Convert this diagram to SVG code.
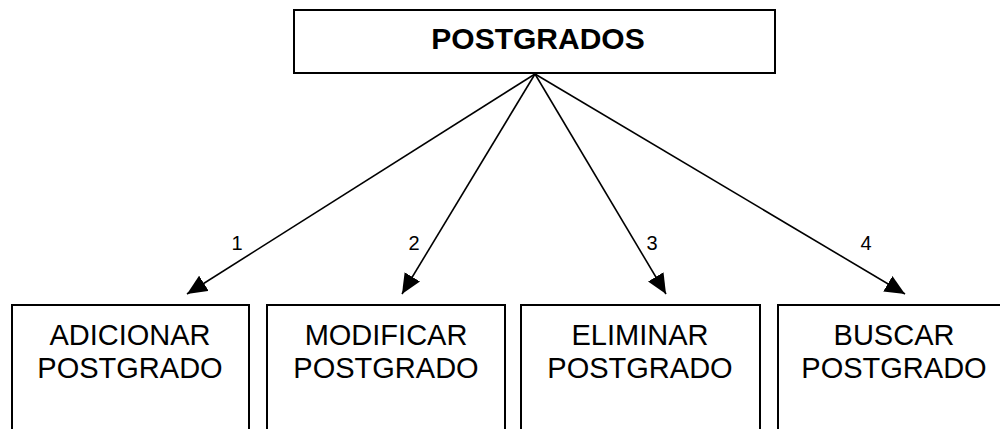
<svg xmlns="http://www.w3.org/2000/svg" width="1000" height="429" viewBox="0 0 1000 429">
<style>
.box{fill:#fff;stroke:#000;stroke-width:2}
.t{font-family:"Liberation Sans",Arial,sans-serif;font-size:29px;text-anchor:middle;fill:#000}
.tb{font-family:"Liberation Sans",Arial,sans-serif;font-size:30px;font-weight:bold;text-anchor:middle;fill:#000}
.lbl{font-family:"Liberation Sans",Arial,sans-serif;font-size:20px;text-anchor:middle;fill:#000}
.c{stroke:#000;stroke-width:1.6;fill:none;marker-end:url(#ah)}
</style>
<defs>
<marker id="ah" markerUnits="userSpaceOnUse" markerWidth="22" markerHeight="18" refX="20" refY="9" orient="auto">
<path d="M0,0 L20,9 L0,18 Z" fill="#000"/>
</marker>
</defs>
<g id="root">
<rect class="box" x="294" y="10" width="481" height="63"/>
<text class="tb" x="538" y="49">POSTGRADOS</text>
</g>
<g id="adicionar">
<rect class="box" x="12" y="305" width="237" height="140"/>
<text class="t" x="130" y="345">ADICIONAR</text>
<text class="t" x="130" y="378">POSTGRADO</text>
</g>
<g id="modificar">
<rect class="box" x="267" y="305" width="238" height="140"/>
<text class="t" x="386" y="345">MODIFICAR</text>
<text class="t" x="386" y="378">POSTGRADO</text>
</g>
<g id="eliminar">
<rect class="box" x="521" y="305" width="239" height="140"/>
<text class="t" x="640" y="345">ELIMINAR</text>
<text class="t" x="640" y="378">POSTGRADO</text>
</g>
<g id="buscar">
<rect class="box" x="778" y="305" width="240" height="140"/>
<text class="t" x="894" y="345">BUSCAR</text>
<text class="t" x="894" y="378">POSTGRADO</text>
</g>
<g id="connectors">
<line class="c" x1="535" y1="74" x2="187" y2="294"/>
<line class="c" x1="535" y1="74" x2="402" y2="294"/>
<line class="c" x1="535" y1="74" x2="666" y2="294"/>
<line class="c" x1="535" y1="74" x2="905" y2="294"/>
<text class="lbl" x="237" y="250">1</text>
<text class="lbl" x="414" y="250">2</text>
<text class="lbl" x="652" y="250">3</text>
<text class="lbl" x="866" y="250">4</text>
</g>
</svg>
